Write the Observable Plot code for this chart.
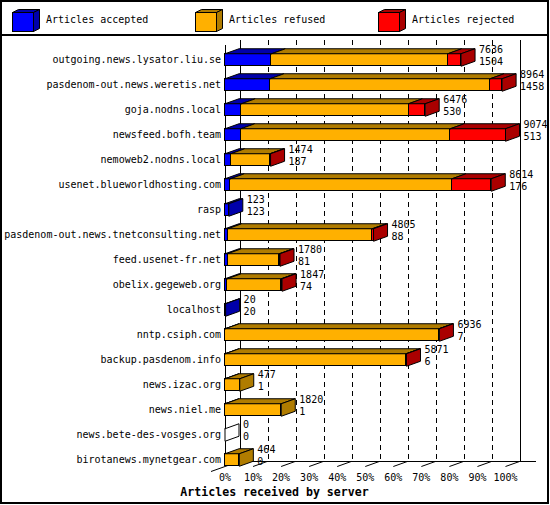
<!DOCTYPE html>
<html><head><meta charset="utf-8">
<script src="https://cdn.jsdelivr.net/npm/d3@7"></script>
<script src="https://cdn.jsdelivr.net/npm/@observablehq/plot@0.6"></script>
<style>
body{margin:0;background:#fff;}
#frame{position:relative;width:549px;height:504px;box-sizing:border-box;border:2px solid #000;font-family:"DejaVu Sans Mono",monospace;background:#fff;overflow:hidden;}
#legend{position:relative;height:32px;border-bottom:2px solid #000;}
.item{position:absolute;top:0;height:32px;}
.item svg{position:absolute;left:0;top:5px;}
.item span{position:absolute;left:34px;top:12px;line-height:12px;font-size:10px;white-space:nowrap;}
#chart svg{display:block;}
#caption{text-align:center;font-weight:bold;font-size:11.6px;line-height:16px;height:16px;}
</style></head>
<body>
<div id="frame"><div id="legend"></div><div id="chart"></div><div id="caption">Articles received by server</div></div>
<script>
const servers = ["outgoing.news.lysator.liu.se","pasdenom-out.news.weretis.net","goja.nodns.local","newsfeed.bofh.team","nemoweb2.nodns.local","usenet.blueworldhosting.com","rasp","pasdenom-out.news.tnetconsulting.net","feed.usenet-fr.net","obelix.gegeweb.org","localhost","nntp.csiph.com","backup.pasdenom.info","news.izac.org","news.niel.me","news.bete-des-vosges.org","birotanews.mynetgear.com"];
const offered  = [7636,8964,6476,9074,1474,8614,123,4805,1780,1847,20,6936,5871,477,1820,0,464];
const accepted = [1504,1458,530,513,187,176,123,88,81,74,20,7,6,1,1,0,0];
const refused  = [5702,7118,5407,6774,1267,7168,0,4677,1674,1748,0,6914,5853,476,1819,0,464];
const rejected = [430,388,539,1787,20,1270,0,40,25,25,0,15,12,0,0,0,0];
const seriesNames = ["Articles accepted","Articles refused","Articles rejected"];
const frontColors = ["#0000ff","#ffb000","#ff0000"];
const shadeColors = ["#0000aa","#b07c00","#aa0000"];
const tickValues = [0,10,20,30,40,50,60,70,80,90,100];

// Legend
const legend = d3.select("#legend");
seriesNames.forEach((name, k) => {
  const it = legend.append("div").attr("class","item").style("left", (10 + 183*k) + "px");
  const s = it.append("svg").attr("width",30).attr("height",26);
  s.append("polygon").attr("points","0.5,5.5 6.5,2.5 27.5,2.5 21.5,5.5").attr("fill",shadeColors[k]).attr("stroke","#000");
  s.append("polygon").attr("points","21.5,5.5 27.5,2.5 27.5,21.5 21.5,24.5").attr("fill",shadeColors[k]).attr("stroke","#000");
  s.append("rect").attr("x",0.5).attr("y",5.5).attr("width",21).attr("height",19).attr("fill",frontColors[k]).attr("stroke","#000");
  it.append("span").text(name);
});

// Geometry of the pseudo-3D bars
const xRange = [222.5, 503];
const yRange = [23.5, 423.5];
const DX = 14 * 100 / (xRange[1] - xRange[0]);   // depth, in percent units
const DY = 5 / ((yRange[1] - yRange[0]) / 16);     // depth, in row units
const HH = 0.25;                                    // half bar height, row units
const maxTotal = d3.max(offered);
const pct = v => v / maxTotal * 100;

const fronts = [], faces = [];
let pid = 0;
servers.forEach((s, i) => {
  const vals = [accepted[i], refused[i], rejected[i]];
  let c = 0, last = -1;
  vals.forEach((v, k) => {
    if (v > 0) {
      const x0 = pct(c), x1 = pct(c + v);
      fronts.push({i, x0, x1, fill: frontColors[k]});
      const id = pid++;
      [[x0, i-HH],[x1, i-HH],[x1+DX, i-HH-DY],[x0+DX, i-HH-DY],[x0, i-HH]]
        .forEach(([x,y]) => faces.push({id, x, y, fill: shadeColors[k]}));
      last = k;
    }
    c += v;
  });
  const xe = pct(c), id = pid++;
  const f = last >= 0 ? shadeColors[last] : "#ffffff";
  [[xe, i-HH],[xe+DX, i-HH-DY],[xe+DX, i+HH-DY],[xe, i+HH],[xe, i-HH]]
    .forEach(([x,y]) => faces.push({id, x, y, fill: f}));
});

const rows = servers.map((_, i) => i);
const yBackTop = -0.78, yFloorBack = 16.06, yFloorFront = yFloorBack + DY;

const chart = Plot.plot({
  width: 545, height: 448, margin: 0,
  x: {domain: [0, 100], range: xRange, axis: null},
  y: {domain: [0, 16], range: yRange, axis: null},
  color: {type: "identity"},
  style: {fontFamily: "'DejaVu Sans Mono', monospace", fontSize: "10px", background: "white", color: "black", overflow: "visible"},
  marks: [
    Plot.ruleX(tickValues.slice(1, -1), {x: d => d, y1: () => yBackTop, y2: () => yFloorBack, dx: 15, stroke: "#000", strokeDasharray: "5,4", shapeRendering: "crispEdges"}),
    Plot.ruleX([0, 100], {x: d => d, y1: () => yBackTop, y2: () => yFloorBack, dx: 15, stroke: "#000", shapeRendering: "crispEdges"}),
    Plot.ruleY([yFloorBack], {y: d => d, x1: () => 0, x2: () => 100 + 15 * 100 / (xRange[1] - xRange[0]) + 0.4, dx: 15, stroke: "#000", shapeRendering: "crispEdges"}),
    Plot.link(tickValues, {x1: d => d === 0 ? -DX : d, y1: d => d === 0 ? yFloorFront + DY : yFloorFront, x2: d => d + DX, y2: () => yFloorBack, stroke: "#000"}),
    Plot.ruleX([0], {x: d => d, y1: () => -0.58, y2: () => yFloorFront, stroke: "#000", shapeRendering: "crispEdges"}),
    Plot.rect(fronts, {x1: "x0", x2: "x1", y1: d => d.i - HH, y2: d => d.i + HH, fill: "fill", stroke: "#000", strokeWidth: 1, shapeRendering: "crispEdges"}),
    Plot.line(faces, {x: "x", y: "y", z: "id", fill: "fill", stroke: "#000", strokeWidth: 1, curve: "linear"}),
    Plot.text(servers, {x: () => 0, y: (d, i) => i, text: d => d, dx: -4, textAnchor: "end"}),
    Plot.text(rows, {x: i => pct(offered[i]), y: i => i, text: i => String(offered[i]), dx: 18, dy: -10, textAnchor: "start"}),
    Plot.text(rows, {x: i => pct(offered[i]), y: i => i, text: i => String(accepted[i]), dx: 18, dy: 1.5, textAnchor: "start"}),
    Plot.text(tickValues, {x: d => d, y: () => 16.72, text: d => d + "%"})
  ]
});
document.getElementById("chart").appendChild(chart);
</script>
</body></html>
